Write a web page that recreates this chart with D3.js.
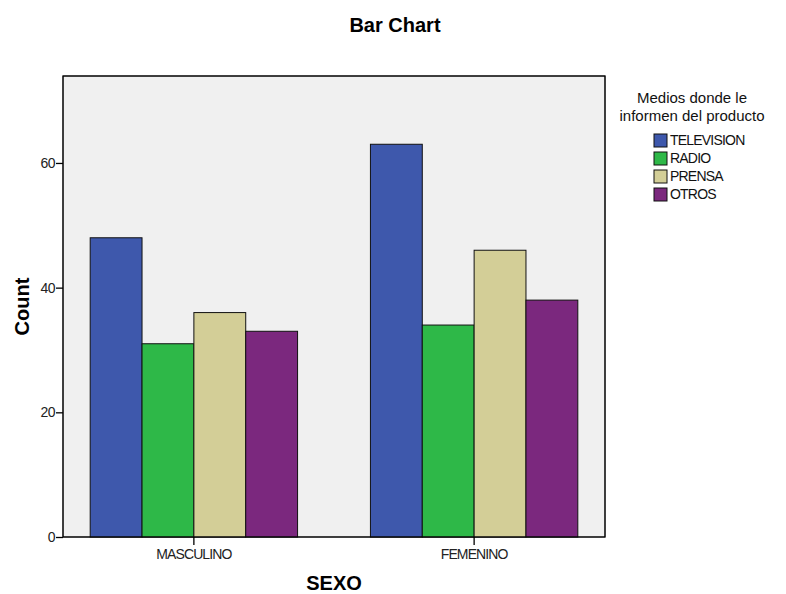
<!DOCTYPE html>
<html><head><meta charset="utf-8">
<script src="https://cdn.jsdelivr.net/npm/d3@7"></script>
<style>body{margin:0;background:#fff}svg{display:block}text{font-family:"Liberation Sans",Arial,sans-serif}</style>
</head><body>
<svg id="c" width="786" height="594"></svg>
<script>
const categories = ["MASCULINO", "FEMENINO"];
const seriesNames = ["TELEVISION", "RADIO", "PRENSA", "OTROS"];
const televisionValues = [48, 63];
const radioValues = [31, 34];
const prensaValues = [36, 46];
const otrosValues = [33, 38];
const yTicks = [0, 20, 40, 60];
const colors = ["#3e58ac", "#2eb848", "#d3ce97", "#7b287e"];
const seriesValues = [televisionValues, radioValues, prensaValues, otrosValues];

const svg = d3.select("#c");
const L = 63, R = 605, T = 76, B = 537;

svg.append("rect").attr("x", L).attr("y", T).attr("width", R - L).attr("height", B - T)
  .attr("fill", "#f0f0f0").attr("stroke", "#000").attr("stroke-width", 1);

const x0 = d3.scaleBand().domain(categories).range([L, R]).paddingInner(0.26).paddingOuter(0.097);
const x1 = d3.scaleBand().domain(seriesNames).range([0, x0.bandwidth()]);
const y = d3.scaleLinear().domain([0, 73.95]).range([B, T]);

const data = [];
categories.forEach((c, i) => seriesNames.forEach((s, j) => data.push({c, s, v: seriesValues[j][i], col: colors[j]})));

svg.append("g").selectAll("rect").data(data).join("rect")
  .attr("x", d => x0(d.c) + x1(d.s)).attr("y", d => y(d.v))
  .attr("width", x1.bandwidth()).attr("height", d => B - y(d.v))
  .attr("fill", d => d.col).attr("stroke", "#111").attr("stroke-width", 1);

// y axis
const ya = svg.append("g").attr("transform", `translate(${L},0)`)
  .call(d3.axisLeft(y).tickValues(yTicks).tickSize(7).tickSizeOuter(0).tickFormat(d3.format("d")));
ya.select(".domain").remove();
ya.selectAll("line").attr("stroke", "#000").attr("stroke-width", 1.3);
ya.selectAll("text").attr("font-size", 14).attr("fill", "#222").attr("x", -8).attr("letter-spacing", -0.5);

// x axis
const xa = svg.append("g").attr("transform", `translate(0,${B})`)
  .call(d3.axisBottom(x0).tickSize(8).tickSizeOuter(0));
xa.select(".domain").remove();
xa.selectAll("line").attr("stroke", "#000").attr("stroke-width", 1.3);
xa.selectAll("text").attr("font-size", 14).attr("fill", "#222").attr("y", 12).attr("letter-spacing", -0.9);

svg.append("rect").attr("x", L).attr("y", T).attr("width", R - L).attr("height", B - T)
  .attr("fill", "none").attr("stroke", "#000").attr("stroke-width", 1);

// titles
svg.append("text").attr("x", 395).attr("y", 32).attr("text-anchor", "middle")
  .attr("font-size", 20).attr("font-weight", "bold").text("Bar Chart");
svg.append("text").attr("x", (L + R) / 2).attr("y", 590).attr("text-anchor", "middle")
  .attr("font-size", 20).attr("font-weight", "bold").text("SEXO");
svg.append("text").attr("transform", `translate(29,${(T + B) / 2}) rotate(-90)`).attr("text-anchor", "middle")
  .attr("font-size", 20).attr("font-weight", "bold").text("Count");

// legend
const lg = svg.append("g");
lg.append("text").attr("x", 692).attr("y", 103).attr("text-anchor", "middle").attr("font-size", 15).attr("fill", "#111").text("Medios donde le");
lg.append("text").attr("x", 692).attr("y", 121).attr("text-anchor", "middle").attr("font-size", 15).attr("fill", "#111").text("informen del producto");
seriesNames.forEach((s, j) => {
  const yy = 134 + j * 18;
  lg.append("rect").attr("x", 654).attr("y", yy).attr("width", 13).attr("height", 13)
    .attr("fill", colors[j]).attr("stroke", "#111").attr("stroke-width", 1);
  lg.append("text").attr("x", 670).attr("y", yy + 11).attr("font-size", 14).attr("fill", "#111")
    .attr("letter-spacing", -0.8).text(s);
});
</script>
</body></html>
